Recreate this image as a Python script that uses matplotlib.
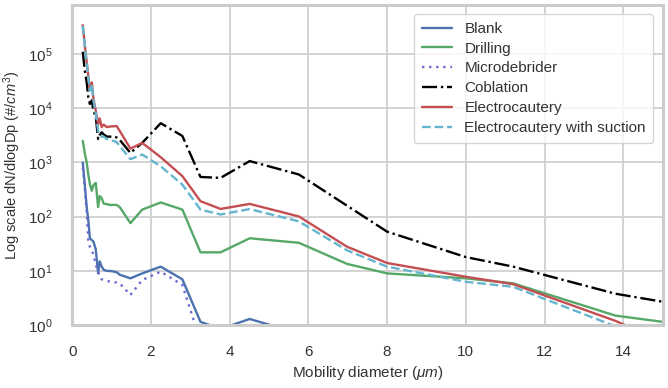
import numpy as np
import matplotlib
matplotlib.use("Agg")
import matplotlib.pyplot as plt
import seaborn as sns

sns.set_theme(style="whitegrid")
plt.rcParams['font.family'] = ['Liberation Sans', 'DejaVu Sans']
plt.rcParams['mathtext.fontset'] = 'custom'
plt.rcParams['mathtext.rm'] = 'Liberation Sans'
plt.rcParams['mathtext.it'] = 'Liberation Sans:italic'

diameter = [0.27, 0.32, 0.37, 0.41, 0.45, 0.50, 0.54, 0.60, 0.66, 0.70, 0.75, 0.80,
            0.88, 0.96, 1.13, 1.21, 1.48, 1.78, 2.25, 2.80, 3.26, 3.77, 4.51, 5.76,
            6.98, 8.0, 10.0, 11.2, 13.8, 15.0]

blank = [1000, 400, 150, 87, 40, 37, 35, 25, 9, 15, 12, 10.5,
         10, 10, 9.5, 8.5, 7.3, 9, 12, 7, 1.15, 0.85, 1.3, 0.7,
         0.5, 0.4, 0.3, 0.3, 0.2, 0.2]
drilling = [2500, 1500, 1000, 600, 400, 300, 380, 420, 150, 240, 220, 175,
            170, 165, 165, 150, 76, 135, 183, 135, 22, 22, 40, 33,
            13.5, 9, 7.3, 5.9, 1.5, 1.15]
microdebrider = [800, 350, 120, 37, 28, 24, 20, 13, 9.7, 8, 7, 6.8,
                 6.5, 6.4, 6.1, 5.9, 3.6, 6.8, 9.7, 5.5, 0.5, 0.4, 0.3, 0.3,
                 0.2, 0.2, 0.2, 0.2, 0.2, 0.2]
coblation = [110000, 50000, 30000, 16000, 12000, 14000, 9000, 7000, 2700, 3200, 3600, 3300,
             3000, 3000, 2900, 2600, 1500, 2300, 5300, 3080, 540, 520, 1060, 600,
             160, 53, 18, 12, 3.8, 2.7]
electrocautery = [340000, 150000, 70000, 40000, 22000, 30000, 15000, 9000, 5000, 6500, 4500, 5000,
                  4500, 4600, 4700, 3800, 1800, 2300, 1250, 560, 193, 139, 172, 101,
                  28, 14, 7.8, 5.7, 1.2, 0.5]
electro_suction = [330000, 145000, 68000, 38000, 21000, 28000, 14000, 8000, 3800, 3300, 3000, 3000,
                   2700, 2600, 2400, 2000, 1150, 1400, 850, 390, 135, 110, 138, 82,
                   24, 12, 6.3, 5.1, 0.95, 0.4]

series = [
    ("Blank", blank, dict(color="#4c72b0", linestyle="-", lw=1.7)),
    ("Drilling", drilling, dict(color="#55a868", linestyle="-", lw=1.7)),
    ("Microdebrider", microdebrider, dict(color="#6a6ad0", linestyle=(0, (1, 2)), lw=1.7)),
    ("Coblation", coblation, dict(color="black", linestyle="-.", lw=1.7)),
    ("Electrocautery", electrocautery, dict(color="#c44e52", linestyle="-", lw=1.7)),
    ("Electrocautery with suction", electro_suction, dict(color="#64b5cd", linestyle="--", lw=1.7)),
]

fig = plt.figure(figsize=(6.68, 3.88), dpi=100)
ax = fig.add_axes([0.108, 0.162, 0.884, 0.825])
for name, vals, st in series:
    ax.plot(diameter, vals, label=name, **st)

ax.set_yscale("log")
ax.set_xlim(0, 15)
ax.set_ylim(1, 8e5)
ax.set_xticks([0, 2, 4, 6, 8, 10, 12, 14])
ax.grid(True, color="#d0d0d0", lw=1.3)
ax.minorticks_off()
for s in ax.spines.values():
    s.set_color("#cccccc")
    s.set_linewidth(2.2)
ax.tick_params(axis="both", labelsize=11, colors="#333333", pad=8)
ax.set_xlabel(r"Mobility diameter ($\mu m$)", fontsize=11, color="#333333")
ax.set_ylabel(r"Log scale dN/dlogDp (#/$cm^3$)", fontsize=10.5, color="#333333")
leg = ax.legend(loc="upper right", fontsize=11, frameon=True, handlelength=2.0,
                borderaxespad=0.6, labelspacing=0.38, borderpad=0.5)
leg.get_frame().set_edgecolor("#cccccc")
for t in leg.get_texts():
    t.set_color("#333333")

fig.savefig("out.png", dpi=100)
